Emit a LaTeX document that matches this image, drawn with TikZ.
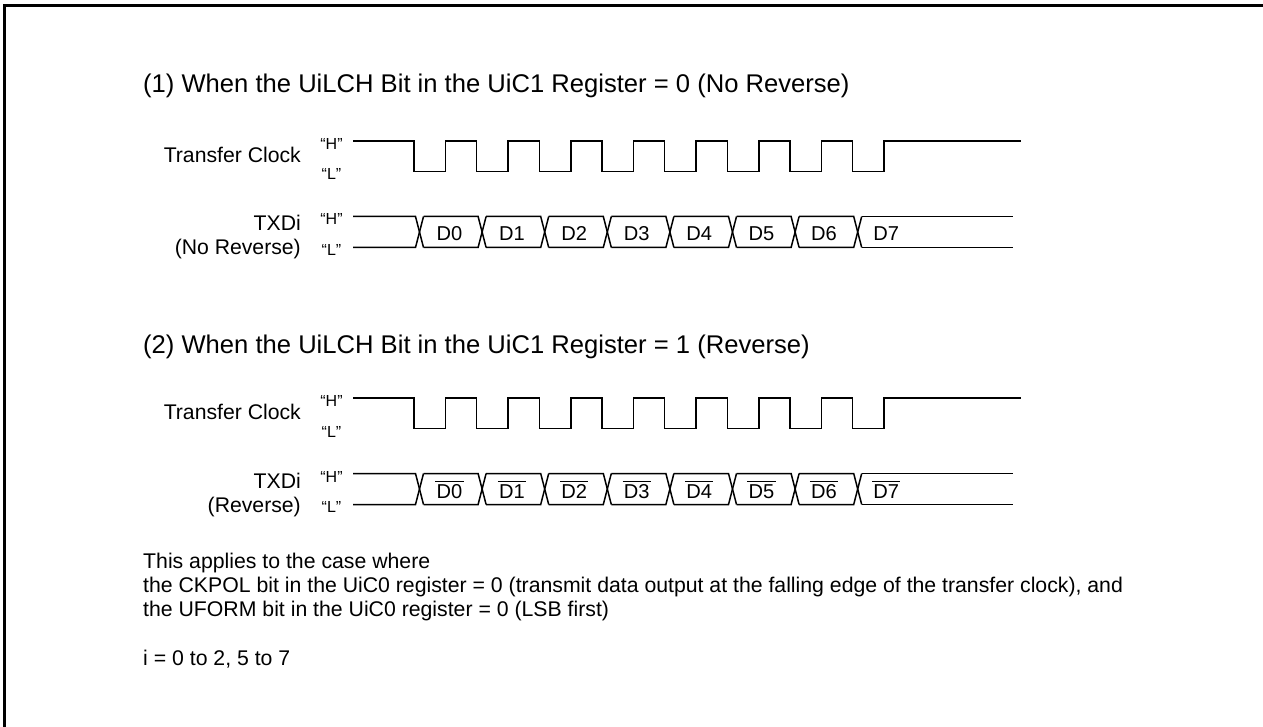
\documentclass[tikz,border=0pt]{standalone}
\usepackage{fontspec}
\setmainfont{Liberation Sans}
\newcommand{\ovl}[1]{\hbox{\vbox{\hrule height .9pt\kern 2.4pt\hbox{\kern 1.2pt#1\kern 1.2pt}}}}
\tikzset{
  title/.style={anchor=base west,inner sep=0pt,font=\fontsize{25.6}{30}\selectfont},
  signame/.style={anchor=base east,inner sep=0pt,font=\fontsize{21.2}{25}\selectfont},
  body/.style={anchor=base west,inner sep=0pt,font=\fontsize{21.25}{24}\selectfont},
  lvl/.style={anchor=base,inner sep=0pt,font=\fontsize{16}{18}\selectfont},
  bit/.style={anchor=base,inner sep=0pt,font=\fontsize{20.1}{24}\selectfont},
  wave/.style={line width=1.5pt,line join=miter,black},
  frameline/.style={line width=3pt,black}
}
\begin{document}
\begin{tikzpicture}[x=1pt,y=-1pt]
\useasboundingbox (0,0) rectangle (1263,727);
\coordinate (ftr) at (1263,5.5);
\coordinate (ftl) at (4.5,5.5);
\coordinate (fbl) at (4.5,727);
\draw[frameline] (ftr) -- (ftl) -- (fbl);
\node[title] (t1) at (143,93) {(1) When the UiLCH Bit in the UiC1 Register = 0 (No Reverse)};
\node[title] (t2) at (143,353) {(2) When the UiLCH Bit in the UiC1 Register = 1 (Reverse)};
\foreach \o/\n/\rev in {0/a/0,257/b/1}{
  \begin{scope}[yshift=-\o pt]
  \node[signame] (tc\n) at (301,162.5) {Transfer Clock};
  \node[signame] (tx\n) at (301,231) {TXDi};
  \ifnum\rev=0
    \node[signame] (ty\n) at (301,255) {(No Reverse)};
  \else
    \node[signame] (ty\n) at (301,255) {(Reverse)};
  \fi
  \node[lvl] (hc\n) at (331.5,149.5) {“H”};
  \node[lvl] (lc\n) at (331.5,180) {“L”};
  \node[lvl] (hx\n) at (331.5,225) {“H”};
  \node[lvl] (lx\n) at (331.5,255.5) {“L”};
  \draw[wave] (353,141)
    \foreach \k in {0,...,7}{ -- ({414+62.65*\k},141) -- ({414+62.65*\k},171.5) -- ({445.5+62.65*\k},171.5) -- ({445.5+62.65*\k},141) }
    -- (1021,141);
  \draw[wave] (353,216.5) -- (415.5,216.5) -- (423.5,247.5);
  \draw[wave] (353,247.5) -- (415.5,247.5) -- (423.5,216.5);
  \foreach \k in {0,...,6}{
    \draw[wave] ({423.5+62.6*\k},216.5) -- ({415.5+62.6*(\k+1)},216.5) -- ({423.5+62.6*(\k+1)},247.5);
    \draw[wave] ({423.5+62.6*\k},247.5) -- ({415.5+62.6*(\k+1)},247.5) -- ({423.5+62.6*(\k+1)},216.5);
    \pgfmathsetmacro{\cx}{449.5+62.4*\k}
    \ifnum\rev=0
      \node[bit] (d\n\k) at (\cx,240.7) {D\k};
    \else
      \node[bit,anchor=south] (d\n\k) at (\cx,241.5) {\ovl{D\k}};
    \fi
  }
  \pgfmathsetmacro{\cx}{449.5+62.4*7}
  \ifnum\rev=0
    \node[bit] (d\n7) at (\cx,240.7) {D7};
  \else
    \node[bit,anchor=south] (d\n7) at (\cx,241.5) {\ovl{D7}};
  \fi
  \draw[wave] ({423.5+62.6*7},216.5) -- (1013,216.5);
  \draw[wave] ({423.5+62.6*7},247.5) -- (1013,247.5);
  \end{scope}
}
\node[body] (n1) at (143,568) {This applies to the case where};
\node[body] (n2) at (143,592) {the CKPOL bit in the UiC0 register = 0 (transmit data output at the falling edge of the transfer clock), and};
\node[body] (n3) at (143,616) {the UFORM bit in the UiC0 register = 0 (LSB first)};
\node[body] (n4) at (143,665) {i = 0 to 2, 5 to 7};
\end{tikzpicture}
\end{document}
